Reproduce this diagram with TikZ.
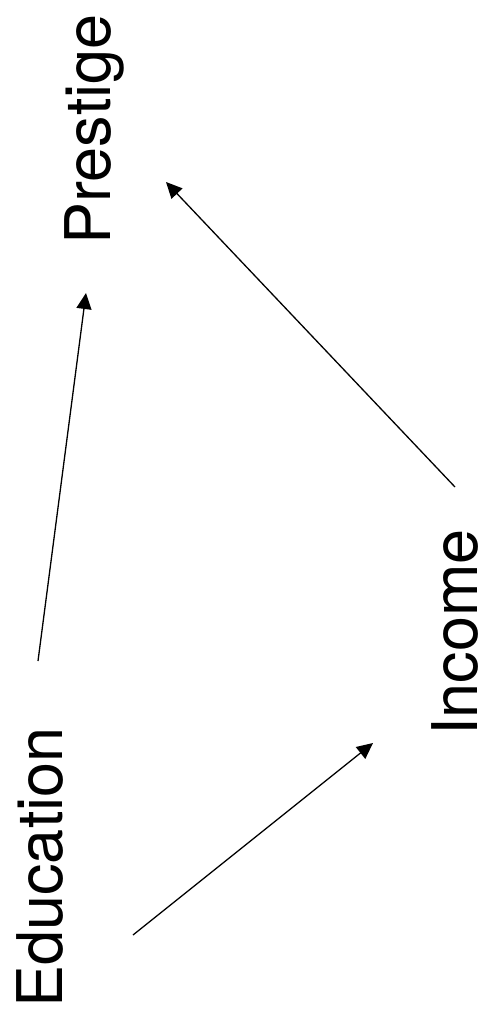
\documentclass[tikz,border=0pt]{standalone}
\usepackage{fontspec}
\setmainfont{TeX Gyre Heros}
\usetikzlibrary{arrows.meta}
\tikzset{
  label/.style={rotate=90, anchor=base, inner sep=0pt, font=\fontsize{63}{75}\selectfont},
  link/.style={line width=1.3pt, -{Triangle[length=16pt,width=15pt]}}
}
\begin{document}
\begin{tikzpicture}[x=1pt,y=-1pt]
\useasboundingbox (0,0) rectangle (482,1023);
\node[label] (edu) at (62,867.5) {Education};
\node[label] (inc) at (477,632.5) {Income};
\node[label] (pre) at (110,129.5) {Prestige};
\coordinate (eduA) at (38,661);
\coordinate (eduB) at (133,935);
\coordinate (incA) at (455,487);
\coordinate (incT) at (373,743);
\coordinate (preA) at (86,293);
\coordinate (preB) at (166,182);
\draw[link] (eduA) -- (preA);
\draw[link] (incA) -- (preB);
\draw[link] (eduB) -- (incT);
\end{tikzpicture}
\end{document}
